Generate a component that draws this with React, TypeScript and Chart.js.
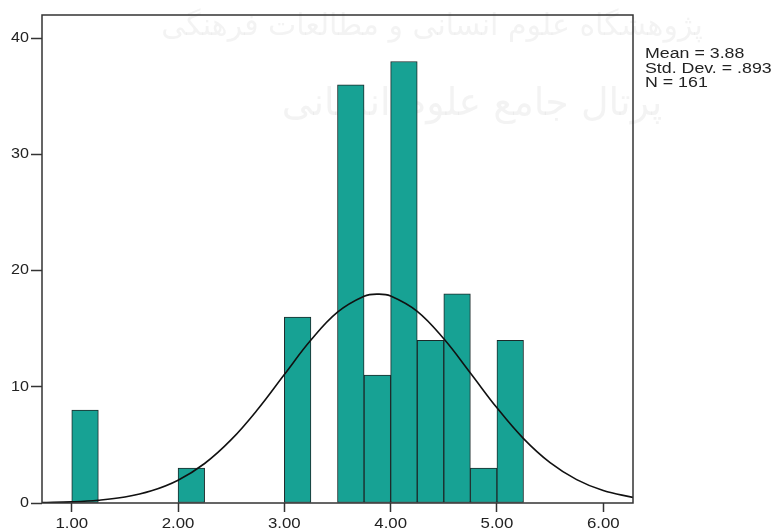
import React, { useEffect, useRef } from "react";
import { Chart, registerables } from "chart.js";

Chart.register(...registerables);

// Histogram bins (centres of 0.25-wide bins) and frequencies
const binCenters = [1.125, 2.125, 3.125, 3.625, 3.875, 4.125, 4.375, 4.625, 4.875, 5.125];
const frequencies = [8, 3, 16, 36, 11, 38, 14, 18, 3, 14];

// Normal curve
const curveX = [0.72, 1.0, 1.25, 1.5, 1.75, 2.0, 2.25, 2.5, 2.75, 3.0, 3.25, 3.5, 3.75, 3.88, 4.0, 4.25, 4.5, 4.75, 5.0, 5.25, 5.5, 5.75, 6.0, 6.28];
const curveY = [0.03, 0.1, 0.24, 0.52, 1.05, 1.96, 3.4, 5.45, 8.07, 11.06, 14.02, 16.42, 17.79, 17.98, 17.82, 16.5, 14.13, 11.19, 8.19, 5.54, 3.47, 2.01, 1.07, 0.48];

const xTickValues = [1, 2, 3, 4, 5, 6];
const xTickLabels = ["1.00", "2.00", "3.00", "4.00", "5.00", "6.00"];
const yTickValues = [0, 10, 20, 30, 40];
const yTickLabels = ["0", "10", "20", "30", "40"];
const statsLines = ["Mean = 3.88", "Std. Dev. = .893", "N = 161"];
const watermarkLines = ["پژوهشگاه علوم انسانی و مطالعات فرهنگی", "پرتال جامع علوم انسانی"];

export default function App() {
  const ref = useRef<HTMLCanvasElement | null>(null);

  useEffect(() => {
    if (!ref.current) return;
    const stretchText = (ctx: any, text: string, x: number, y: number, align: string, sx: number) => {
      ctx.save();
      ctx.translate(x, y);
      ctx.scale(sx, 1);
      ctx.textAlign = align;
      ctx.fillText(text, 0, 0);
      ctx.restore();
    };
    const framePlugin = {
      id: "frame",
      beforeDatasetsDraw(chart: any) {
        const { ctx, chartArea } = chart;
        ctx.save();
        ctx.fillStyle = "rgba(120,120,120,0.09)";
        ctx.textAlign = "center";
        ctx.textBaseline = "middle";
        ctx.font = "30px 'DejaVu Sans'";
        ctx.fillText(watermarkLines[0], chartArea.left + 390, chartArea.top + 12);
        ctx.font = "38px 'DejaVu Sans'";
        ctx.fillText(watermarkLines[1], chartArea.left + 430, chartArea.top + 90);
        ctx.restore();
      },
      afterDraw(chart: any) {
        const { ctx, chartArea, scales } = chart;
        ctx.save();
        ctx.strokeStyle = "#333";
        ctx.lineWidth = 1.5;
        ctx.strokeRect(chartArea.left, chartArea.top, chartArea.right - chartArea.left, chartArea.bottom - chartArea.top);
        ctx.fillStyle = "#222";
        ctx.textBaseline = "middle";
        ctx.font = "14px 'Liberation Sans'";
        xTickValues.forEach((v, i) => {
          stretchText(ctx, xTickLabels[i], scales.x.getPixelForValue(v), 524, "center", 1.2);
        });
        yTickValues.forEach((v, i) => {
          stretchText(ctx, yTickLabels[i], 29, scales.y.getPixelForValue(v), "right", 1.15);
        });
        ctx.font = "14px 'Liberation Sans'";
        statsLines.forEach((t, i) => {
          stretchText(ctx, t, chartArea.right + 12, 54.5 + i * 14.5, "left", 1.27);
        });
        ctx.restore();
      },
    };

    const chart = new Chart(ref.current, {
      type: "bar",
      data: {
        datasets: [
          {
            type: "line",
            data: curveX.map((x, i) => ({ x, y: curveY[i] })),
            borderColor: "#111",
            borderWidth: 1.6,
            pointRadius: 0,
            tension: 0.4,
            fill: false,
            order: 0,
          } as any,
          {
            type: "bar",
            data: binCenters.map((x, i) => ({ x, y: frequencies[i] })),
            backgroundColor: "#17a294",
            borderColor: "#1c2a2a",
            borderWidth: 1,
            borderSkipped: false,
            barPercentage: 1,
            categoryPercentage: 1,
            order: 1,
          } as any,
        ],
      },
      options: {
        responsive: false,
        animation: false,
        devicePixelRatio: 1,
        layout: { padding: { top: 15, right: 140, left: 0, bottom: 0 } },
        plugins: { legend: { display: false }, tooltip: { enabled: false } },
        scales: {
          x: {
            type: "linear",
            min: 0.72,
            max: 6.28,
            offset: false,
            afterBuildTicks: (s: any) => {
              s.ticks = xTickValues.map((v) => ({ value: v }));
            },
            afterFit: (s: any) => {
              s.height = 29;
            },
            ticks: { display: false },
            grid: { display: true, offset: false, drawOnChartArea: false, drawTicks: true, tickLength: 9, tickColor: "#333", tickWidth: 1.5 },
            border: { display: false },
          },
          y: {
            type: "linear",
            min: 0,
            max: 42,
            afterBuildTicks: (s: any) => {
              s.ticks = yTickValues.map((v) => ({ value: v }));
            },
            afterFit: (s: any) => {
              s.width = 42;
            },
            ticks: { display: false },
            grid: { display: true, offset: false, drawOnChartArea: false, drawTicks: true, tickLength: 11, tickColor: "#333", tickWidth: 1.5 },
            border: { display: false },
          },
        },
      } as any,
      plugins: [framePlugin],
    });
    return () => chart.destroy();
  }, []);

  return (
    <div style={{ position: "fixed", left: 0, top: 0, width: 773, height: 532, background: "#fff" }}>
      <canvas ref={ref} width={773} height={532} style={{ width: 773, height: 532, display: "block" }} />
    </div>
  );
}
